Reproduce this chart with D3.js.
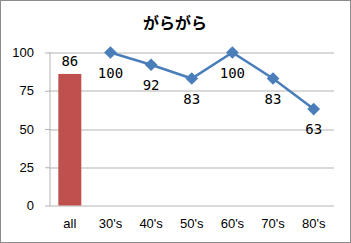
<!DOCTYPE html>
<html>
<head>
<meta charset="utf-8">
<script src="https://cdn.jsdelivr.net/npm/d3@7"></script>
<style>
  body { margin: 0; background: #fff; }
</style>
</head>
<body>
<div id="chart"></div>
<script>
const categories = ["all", "30's", "40's", "50's", "60's", "70's", "80's"];
const barValues = [86];            // "all" column
const lineValues = [100, 92, 83, 100, 83, 63]; // 30's .. 80's
const yTicks = [0, 25, 50, 75, 100];
const title = "がらがら";

const W = 351, H = 243;
const margin = { top: 52.5, right: 17, bottom: 37.5, left: 49.5 };
const width = W - margin.left - margin.right;
const height = H - margin.top - margin.bottom;

const svg = d3.select("#chart").append("svg")
  .attr("width", W).attr("height", H)
  .style("font-family", "'Liberation Sans', Arial, sans-serif");

// outer frame
svg.append("rect")
  .attr("x", 0.5).attr("y", 0.5)
  .attr("width", W - 1).attr("height", H - 1)
  .attr("fill", "#fff").attr("stroke", "#8c8c8c");

svg.append("text")
  .attr("x", 175).attr("y", 29)
  .attr("text-anchor", "middle")
  .style("font-family", "'Noto Sans CJK JP', sans-serif")
  .style("font-weight", "bold")
  .style("font-size", "16px")
  .text(title);

const g = svg.append("g").attr("transform", `translate(${margin.left},${margin.top})`);

const x = d3.scaleBand().domain(categories).range([0, width]).padding(0);
const y = d3.scaleLinear().domain([0, 100]).range([height, 0]);

// gridlines
g.selectAll(".grid").data(yTicks).enter().append("line")
  .attr("x1", 0).attr("x2", width)
  .attr("y1", (d) => Math.round(y(d)) + 0.5).attr("y2", (d) => Math.round(y(d)) + 0.5)
  .attr("stroke", "#b3b3b3");

// y axis
const yAxis = g.append("g")
  .attr("transform", "translate(0.5,0)")
  .call(d3.axisLeft(y).tickValues(yTicks).tickSize(5).tickPadding(11));
yAxis.select(".domain").attr("stroke", "#b3b3b3").attr("d", `M0,${y(100)}V${height}`);
yAxis.selectAll(".tick line").attr("stroke", "#b3b3b3");
yAxis.selectAll("text")
  .style("font-size", "13px").style("font-family", "'Liberation Sans', Arial, sans-serif")
  .attr("fill", "#000");

// x axis labels
const xAxis = g.append("g")
  .attr("transform", `translate(0,${height})`)
  .call(d3.axisBottom(x).tickSize(0).tickPadding(13));
xAxis.select(".domain").remove();
xAxis.selectAll("text")
  .style("font-size", "13px").style("font-family", "'Liberation Sans', Arial, sans-serif")
  .attr("fill", "#000");

// bar
const barW = 23;
g.selectAll(".bar").data(barValues).enter().append("rect")
  .attr("x", (d, i) => x(categories[i]) + x.bandwidth() / 2 - barW / 2)
  .attr("y", (d) => y(d))
  .attr("width", barW)
  .attr("height", (d) => height - y(d))
  .attr("fill", "#c0504d");

g.selectAll(".barlabel").data(barValues).enter().append("text")
  .attr("x", (d, i) => x(categories[i]) + x.bandwidth() / 2)
  .attr("y", (d) => y(d) - 8)
  .attr("text-anchor", "middle")
  .style("font-family", "'DejaVu Sans Mono', monospace")
  .style("font-size", "14px")
  .text((d) => d);

// line series
const lineData = lineValues.map((v, i) => ({ cat: categories[i + 1], v }));
const cx = (d) => x(d.cat) + x.bandwidth() / 2;

g.append("path")
  .datum(lineData)
  .attr("fill", "none")
  .attr("stroke", "#4a7ebb")
  .attr("stroke-width", 2.5)
  .attr("d", d3.line().x(cx).y((d) => y(d.v)));

g.selectAll(".marker").data(lineData).enter().append("path")
  .attr("transform", (d) => `translate(${cx(d)},${y(d.v)}) rotate(45)`)
  .attr("d", "M-4.5,-4.5H4.5V4.5H-4.5Z")
  .attr("fill", "#4a7ebb");

g.selectAll(".linelabel").data(lineData).enter().append("text")
  .attr("x", cx)
  .attr("y", (d) => y(d.v) + 25)
  .attr("text-anchor", "middle")
  .style("font-family", "'DejaVu Sans Mono', monospace")
  .style("font-size", "14px")
  .text((d) => d.v);
</script>
</body>
</html>
